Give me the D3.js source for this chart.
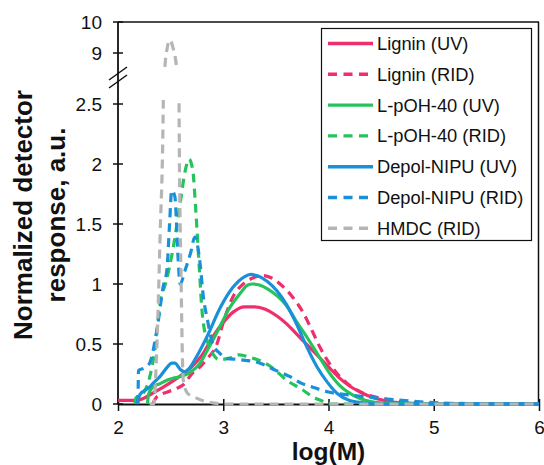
<!DOCTYPE html>
<html><head><meta charset="utf-8">
<script src="https://cdn.jsdelivr.net/npm/d3@7"></script>
<style>body{margin:0;background:#fff} svg{display:block} text{font-family:"Liberation Sans",Arial,sans-serif;fill:#111}</style>
</head><body><svg id="c" width="544" height="465"></svg>
<script>
// ---- data ----
const xTicks = [2, 3, 4, 5, 6];
const yTicksLow = [0, 0.5, 1, 1.5, 2, 2.5];
const yTicksHigh = [9, 10];
const seriesNames = ["Lignin (UV)", "Lignin (RID)", "L-pOH-40 (UV)", "L-pOH-40 (RID)", "Depol-NIPU (UV)", "Depol-NIPU (RID)", "HMDC (RID)"];

const ligninUV = [[2.0,0.03],[2.18,0.03],[2.25,0.05],[2.33,0.09],[2.43,0.14],[2.52,0.19],[2.6,0.24],[2.7,0.31],[2.8,0.41],[2.9,0.56],[3.0,0.68],[3.1,0.77],[3.2,0.81],[3.3,0.81],[3.4,0.79],[3.5,0.74],[3.6,0.67],[3.7,0.58],[3.8,0.49],[3.9,0.4],[4.0,0.31],[4.1,0.22],[4.2,0.15],[4.3,0.1],[4.4,0.06],[4.5,0.035],[4.6,0.018],[4.8,0.006],[5.0,0.002],[6.0,0]];
const ligninRID = [[2.33,0],[2.37,0.06],[2.47,0.1],[2.56,0.13],[2.62,0.16],[2.71,0.26],[2.78,0.31],[2.85,0.38],[2.94,0.5],[3.0,0.68],[3.09,0.89],[3.19,1.0],[3.28,1.05],[3.38,1.07],[3.46,1.05],[3.54,1.0],[3.66,0.89],[3.76,0.76],[3.85,0.6],[3.92,0.47],[4.04,0.3],[4.18,0.17],[4.33,0.09],[4.49,0.05],[4.68,0.02],[4.9,0.008],[5.2,0.003],[6.0,0]];
const pohUV = [[2.28,0],[2.29,0.08],[2.33,0.14],[2.4,0.17],[2.47,0.2],[2.59,0.23],[2.68,0.26],[2.78,0.34],[2.85,0.45],[2.9,0.53],[3.0,0.7],[3.04,0.77],[3.16,0.92],[3.23,0.99],[3.28,1.0],[3.35,0.99],[3.42,0.96],[3.6,0.82],[3.7,0.68],[3.8,0.55],[3.9,0.41],[4.0,0.27],[4.1,0.16],[4.2,0.09],[4.3,0.045],[4.4,0.02],[4.6,0.005],[5.0,0],[6.0,0]];
const pohRID = [[2.16,0],[2.17,0.05],[2.24,0.09],[2.3,0.22],[2.35,0.45],[2.4,0.84],[2.46,1.03],[2.52,1.28],[2.59,1.67],[2.64,1.95],[2.675,2.04],[2.71,1.95],[2.74,1.6],[2.77,1.17],[2.8,0.76],[2.85,0.52],[2.9,0.42],[2.96,0.37],[3.05,0.38],[3.15,0.41],[3.25,0.39],[3.35,0.36],[3.47,0.3],[3.6,0.2],[3.75,0.12],[3.85,0.06],[3.95,0.02],[4.0,0],[6.0,0]];
const depolUV = [[2.18,0],[2.21,0.08],[2.3,0.14],[2.33,0.17],[2.4,0.23],[2.47,0.31],[2.51,0.34],[2.54,0.34],[2.59,0.29],[2.63,0.27],[2.68,0.3],[2.75,0.4],[2.85,0.57],[2.97,0.8],[3.09,0.97],[3.2,1.06],[3.26,1.08],[3.32,1.07],[3.42,1.02],[3.6,0.83],[3.7,0.66],[3.76,0.54],[3.89,0.31],[3.99,0.18],[4.08,0.09],[4.2,0.03],[4.33,0.01],[4.5,0],[6.0,0]];
const depolRID = [[2.19,0],[2.195,0.28],[2.25,0.3],[2.3,0.34],[2.37,0.62],[2.43,0.98],[2.465,1.12],[2.49,1.5],[2.51,1.78],[2.54,1.73],[2.57,1.23],[2.59,1.0],[2.64,1.12],[2.69,1.26],[2.73,1.39],[2.78,1.17],[2.81,0.9],[2.85,0.7],[2.9,0.5],[2.97,0.42],[3.03,0.38],[3.15,0.37],[3.35,0.34],[3.5,0.28],[3.63,0.23],[3.75,0.17],[3.85,0.14],[4.0,0.1],[4.2,0.075],[4.46,0.05],[4.7,0.03],[4.93,0.015],[5.2,0.005],[6.0,0]];
const hmdcRID = [[2.3,0],[2.34,0],[2.37,0.5],[2.4,1.4],[2.43,2.5],[2.445,8.5],[2.47,9.2],[2.495,9.42],[2.52,9.2],[2.557,8.5],[2.58,2.5],[2.6,1.0],[2.62,0.2],[2.66,0.09],[2.72,0.06],[2.8,0.03],[2.9,0.01],[3.0,0],[6.0,0]];

const seriesData = [ligninUV, ligninRID, pohUV, pohRID, depolUV, depolRID, hmdcRID];
const seriesColors = ["#ef2f6b", "#ef2f6b", "#25c35c", "#25c35c", "#1a90d8", "#1a90d8", "#b5b5b5"];
const seriesDashed = [false, true, false, true, false, true, true];

// ---- layout ----
const svg = d3.select("#c");
const L = 118, R = 539, B = 404, T = 22;
const x = d3.scaleLinear().domain([2, 6]).range([L, R]);
const yLow = d3.scaleLinear().domain([0, 2.5]).range([B, 104]);
const yHigh = d3.scaleLinear().domain([9, 10]).range([53, T]);

const defs = svg.append("defs");
defs.append("clipPath").attr("id", "clipLow").append("rect").attr("x", L).attr("y", 100).attr("width", R - L).attr("height", B - 100 + 6);
defs.append("clipPath").attr("id", "clipHigh").append("rect").attr("x", L).attr("y", T).attr("width", R - L).attr("height", 68 - T);

// axes frame
const axisCol = "#111";
svg.append("line").attr("x1", L).attr("x2", R).attr("y1", T).attr("y2", T).attr("stroke", axisCol).attr("stroke-width", 1.5);
svg.append("line").attr("x1", R - 0.5).attr("x2", R - 0.5).attr("y1", T).attr("y2", B).attr("stroke", axisCol).attr("stroke-width", 1.5);

// x axis
const xAxis = svg.append("g").attr("transform", `translate(0,${B})`)
  .call(d3.axisBottom(x).tickValues(xTicks).tickFormat(d3.format("d")).tickSizeInner(0).tickSizeOuter(0).tickPadding(17));
xAxis.select(".domain").attr("stroke", axisCol).attr("stroke-width", 1.8);
xAxis.selectAll(".tick line").remove();
xAxis.selectAll(".tick").append("line").attr("y1", -5).attr("y2", 7).attr("stroke", axisCol).attr("stroke-width", 1.5);
xAxis.selectAll("text").attr("font-size", 19).attr("fill", "#111");

// y axis line (continuous)
svg.append("line").attr("x1", L).attr("x2", L).attr("y1", T).attr("y2", B).attr("stroke", axisCol).attr("stroke-width", 1.8);
function yTicks(scale, vals) {
  const g = svg.append("g");
  const t = g.selectAll("g").data(vals).join("g").attr("transform", d => `translate(0,${scale(d)})`);
  t.append("line").attr("x1", L - 5).attr("x2", L + 5).attr("stroke", axisCol).attr("stroke-width", 1.5);
  t.append("text").attr("x", L - 16).attr("dy", "0.35em").attr("text-anchor", "end").attr("font-size", 19).text(d => d);
}
yTicks(yLow, yTicksLow);
yTicks(yHigh, yTicksHigh);
// break marks
[[0, 0], [1, 8]].forEach(([i, off]) => {
  svg.append("line").attr("x1", L - 9).attr("y1", 80 + off).attr("x2", L + 9).attr("y2", 67 + off)
    .attr("stroke", axisCol).attr("stroke-width", 1.5);
});

// series
const line = scale => d3.line().x(d => x(d[0])).y(d => scale(d[1])).curve(d3.curveMonotoneX);
const gLow = svg.append("g").attr("clip-path", "url(#clipLow)");
const gHigh = svg.append("g").attr("clip-path", "url(#clipHigh)");
seriesData.forEach((data, i) => {
  [[gLow, yLow], [gHigh, yHigh]].forEach(([g, s]) => {
    g.append("path").datum(data).attr("d", line(s)).attr("fill", "none")
      .attr("stroke", seriesColors[i]).attr("stroke-width", 3.2)
      .attr("stroke-dasharray", seriesDashed[i] ? "9,6" : null)
      .attr("stroke-linejoin", "round");
  });
});

// legend
const lg = svg.append("g");
lg.append("rect").attr("x", 321.5).attr("y", 28.5).attr("width", 210).attr("height", 212)
  .attr("fill", "#fff").attr("stroke", axisCol).attr("stroke-width", 1.2);
seriesNames.forEach((n, i) => {
  const by = 50 + i * 30.8;
  lg.append("line").attr("x1", 328).attr("x2", 373).attr("y1", by - 6.5).attr("y2", by - 6.5)
    .attr("stroke", seriesColors[i]).attr("stroke-width", 3.4)
    .attr("stroke-dasharray", seriesDashed[i] ? "9,6.5" : null);
  lg.append("text").attr("x", 377).attr("y", by).attr("font-size", 18.3).text(n);
});

// titles
svg.append("text").attr("x", 328.5).attr("y", 459.5).attr("text-anchor", "middle")
  .attr("font-size", 24.5).attr("font-weight", "bold").text("log(M)");
const yt = svg.append("g").attr("transform", "translate(0,215) rotate(-90)");
yt.append("text").attr("x", 0).attr("y", 32).attr("text-anchor", "middle").attr("font-size", 26).attr("font-weight", "bold").text("Normalized detector");
yt.append("text").attr("x", 0).attr("y", 65).attr("text-anchor", "middle").attr("font-size", 26).attr("font-weight", "bold").text("response, a.u.");
</script></body></html>
